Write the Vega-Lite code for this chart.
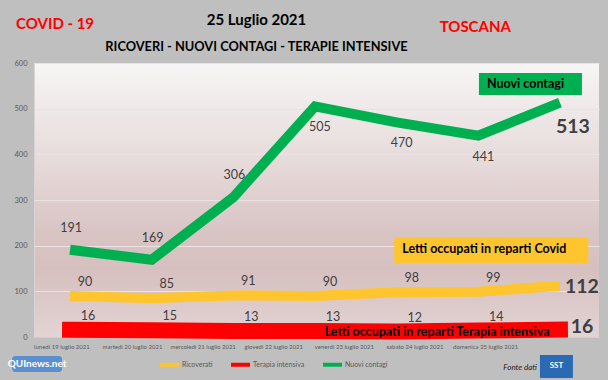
{
  "$schema": "https://vega.github.io/schema/vega-lite/v6.json",
  "width": 565,
  "height": 274,
  "autosize": "none",
  "padding": {"left": 34, "top": 63, "right": 9, "bottom": 43},
  "background": "#bfbfbf",
  "config": {
    "font": "Lato",
    "view": {
      "stroke": null,
      "fill": {
        "gradient": "linear", "x1": 0, "y1": 0, "x2": 0, "y2": 1,
        "stops": [
          {"offset": 0, "color": "#f7f5f5"},
          {"offset": 0.35, "color": "#e7dbdb"},
          {"offset": 0.62, "color": "#d9c4c4"},
          {"offset": 0.75, "color": "#d6bfbf"},
          {"offset": 1, "color": "#e3d4d4"}
        ]
      }
    }
  },
  "title": {
    "text": "25 Luglio 2021",
    "subtitle": "RICOVERI - NUOVI CONTAGI - TERAPIE INTENSIVE",
    "anchor": "middle",
    "frame": "group",
    "dx": -60,
    "font": "Lato",
    "fontSize": 15,
    "fontWeight": "bold",
    "color": "#000000",
    "subtitleFont": "Lato",
    "subtitleFontSize": 12.8,
    "subtitleFontWeight": "bold",
    "subtitleColor": "#000000",
    "subtitlePadding": 13,
    "offset": -37
  },
  "datasets": {
    "serie": [
      {"giorno": "lunedì 19 luglio 2021", "serie": "Nuovi contagi", "valore": 191},
      {"giorno": "martedì 20 luglio 2021", "serie": "Nuovi contagi", "valore": 169},
      {"giorno": "mercoledì 21 luglio 2021", "serie": "Nuovi contagi", "valore": 306},
      {"giorno": "giovedì 22 luglio 2021", "serie": "Nuovi contagi", "valore": 505},
      {"giorno": "venerdì 23 luglio 2021", "serie": "Nuovi contagi", "valore": 470},
      {"giorno": "sabato 24 luglio 2021", "serie": "Nuovi contagi", "valore": 441},
      {"giorno": "domenica 25 luglio 2021", "serie": "Nuovi contagi", "valore": 513},
      {"giorno": "lunedì 19 luglio 2021", "serie": "Ricoverati", "valore": 90},
      {"giorno": "martedì 20 luglio 2021", "serie": "Ricoverati", "valore": 85},
      {"giorno": "mercoledì 21 luglio 2021", "serie": "Ricoverati", "valore": 91},
      {"giorno": "giovedì 22 luglio 2021", "serie": "Ricoverati", "valore": 90},
      {"giorno": "venerdì 23 luglio 2021", "serie": "Ricoverati", "valore": 98},
      {"giorno": "sabato 24 luglio 2021", "serie": "Ricoverati", "valore": 99},
      {"giorno": "domenica 25 luglio 2021", "serie": "Ricoverati", "valore": 112},
      {"giorno": "lunedì 19 luglio 2021", "serie": "Terapia intensiva", "valore": 16},
      {"giorno": "martedì 20 luglio 2021", "serie": "Terapia intensiva", "valore": 15},
      {"giorno": "mercoledì 21 luglio 2021", "serie": "Terapia intensiva", "valore": 13},
      {"giorno": "giovedì 22 luglio 2021", "serie": "Terapia intensiva", "valore": 13},
      {"giorno": "venerdì 23 luglio 2021", "serie": "Terapia intensiva", "valore": 12},
      {"giorno": "sabato 24 luglio 2021", "serie": "Terapia intensiva", "valore": 14},
      {"giorno": "domenica 25 luglio 2021", "serie": "Terapia intensiva", "valore": 16}
    ]
  },
  "layer": [
    {
      "data": {"name": "serie"},
      "layer": [
        {
          "transform": [{"filter": {"field": "serie", "equal": "Ricoverati"}}],
          "mark": {"type": "line", "strokeWidth": 10, "strokeCap": "butt"},
          "encoding": {
            "x": {"field": "giorno", "type": "nominal", "scale": {"type": "point", "domain": ["lunedì 19 luglio 2021", "martedì 20 luglio 2021", "mercoledì 21 luglio 2021", "giovedì 22 luglio 2021", "venerdì 23 luglio 2021", "sabato 24 luglio 2021", "domenica 25 luglio 2021"], "padding": 0.46, "align": 0.48}, "axis": null},
            "y": {"field": "valore", "type": "quantitative", "scale": {"domain": [0, 600], "nice": false},
                  "axis": {"values": [0, 100, 200, 300, 400, 500, 600], "title": null, "grid": true, "gridColor": "#ebe3e3", "domainColor": "#d9d3d3", "ticks": false, "labelColor": "#595959", "labelFontSize": 7.5, "labelPadding": 7}},
            "color": {"field": "serie", "type": "nominal",
                      "scale": {"domain": ["Ricoverati", "Terapia intensiva", "Nuovi contagi"], "range": ["#fec52e", "#ff0000", "#00b050"]},
                      "legend": {"orient": "none", "legendX": 124, "legendY": 290, "direction": "horizontal", "title": null, "symbolType": "stroke", "symbolStrokeWidth": 4, "symbolSize": 361, "labelFontSize": 7, "labelColor": "#595959", "columnPadding": 10, "labelOffset": 1}}
          }
        },
        {
          "transform": [{"filter": {"field": "serie", "equal": "Terapia intensiva"}}],
          "mark": {"type": "line", "strokeWidth": 16, "strokeCap": "square"},
          "encoding": {
            "x": {"field": "giorno", "type": "nominal", "axis": null},
            "y": {"field": "valore", "type": "quantitative"},
            "color": {"field": "serie", "type": "nominal"}
          }
        },
        {
          "transform": [{"filter": {"field": "serie", "equal": "Nuovi contagi"}}],
          "mark": {"type": "line", "strokeWidth": 10, "strokeCap": "butt"},
          "encoding": {
            "x": {"field": "giorno", "type": "nominal", "axis": null},
            "y": {"field": "valore", "type": "quantitative"},
            "color": {"field": "serie", "type": "nominal"}
          }
        },
        {
          "transform": [{"filter": {"and": [{"field": "serie", "equal": "Ricoverati"}, {"not": {"field": "giorno", "equal": "domenica 25 luglio 2021"}}]}}],
          "mark": {"type": "text", "dx": 15, "dy": -14, "fontSize": 12.5, "color": "#404040"},
          "encoding": {
            "x": {"field": "giorno", "type": "nominal", "axis": null},
            "y": {"field": "valore", "type": "quantitative"},
            "text": {"field": "valore", "type": "quantitative"}
          }
        },
        {
          "transform": [{"filter": {"and": [{"field": "serie", "equal": "Ricoverati"}, {"field": "giorno", "equal": "domenica 25 luglio 2021"}]}}],
          "mark": {"type": "text", "dx": 22, "dy": 1, "fontSize": 19.5, "fontWeight": "bold", "color": "#404040"},
          "encoding": {
            "x": {"field": "giorno", "type": "nominal", "axis": null},
            "y": {"field": "valore", "type": "quantitative"},
            "text": {"field": "valore", "type": "quantitative"}
          }
        },
        {
          "transform": [{"filter": {"and": [{"field": "serie", "equal": "Terapia intensiva"}, {"not": {"field": "giorno", "equal": "domenica 25 luglio 2021"}}]}}],
          "mark": {"type": "text", "dx": 18, "dy": -14, "fontSize": 12.5, "color": "#404040"},
          "encoding": {
            "x": {"field": "giorno", "type": "nominal", "axis": null},
            "y": {"field": "valore", "type": "quantitative"},
            "text": {"field": "valore", "type": "quantitative"}
          }
        },
        {
          "transform": [{"filter": {"and": [{"field": "serie", "equal": "Terapia intensiva"}, {"field": "giorno", "equal": "domenica 25 luglio 2021"}]}}],
          "mark": {"type": "text", "dx": 22, "dy": -3, "fontSize": 19.5, "fontWeight": "bold", "color": "#404040"},
          "encoding": {
            "x": {"field": "giorno", "type": "nominal", "axis": null},
            "y": {"field": "valore", "type": "quantitative"},
            "text": {"field": "valore", "type": "quantitative"}
          }
        },
        {
          "transform": [{"filter": {"and": [{"field": "serie", "equal": "Nuovi contagi"}, {"field": "giorno", "oneOf": ["lunedì 19 luglio 2021", "martedì 20 luglio 2021", "mercoledì 21 luglio 2021"]}]}}],
          "mark": {"type": "text", "dx": 1, "dy": -22, "fontSize": 12.5, "color": "#404040"},
          "encoding": {
            "x": {"field": "giorno", "type": "nominal", "axis": null},
            "y": {"field": "valore", "type": "quantitative"},
            "text": {"field": "valore", "type": "quantitative"}
          }
        },
        {
          "transform": [{"filter": {"and": [{"field": "serie", "equal": "Nuovi contagi"}, {"field": "giorno", "oneOf": ["giovedì 22 luglio 2021", "venerdì 23 luglio 2021", "sabato 24 luglio 2021"]}]}}],
          "mark": {"type": "text", "dx": 5, "dy": 21, "fontSize": 12.5, "color": "#404040"},
          "encoding": {
            "x": {"field": "giorno", "type": "nominal", "axis": null},
            "y": {"field": "valore", "type": "quantitative"},
            "text": {"field": "valore", "type": "quantitative"}
          }
        },
        {
          "transform": [{"filter": {"and": [{"field": "serie", "equal": "Nuovi contagi"}, {"field": "giorno", "equal": "domenica 25 luglio 2021"}]}}],
          "mark": {"type": "text", "dx": 13, "dy": 24, "fontSize": 19.5, "fontWeight": "bold", "color": "#404040"},
          "encoding": {
            "x": {"field": "giorno", "type": "nominal", "axis": null},
            "y": {"field": "valore", "type": "quantitative"},
            "text": {"field": "valore", "type": "quantitative"}
          }
        },
        {
          "data": {"values": [{"etichetta": "Nuovi contagi"}]},
          "layer": [
            {
              "mark": {"type": "bar", "color": "#00b050", "width": 103, "xOffset": -29.5},
              "encoding": {
                "x": {"datum": "domenica 25 luglio 2021", "type": "nominal", "axis": null},
                "y": {"datum": 530, "type": "quantitative"},
                "y2": {"datum": 578}
              }
            },
            {
              "mark": {"type": "text", "align": "left", "dx": -73, "fontSize": 12.5, "fontWeight": "bold", "color": "#000000"},
              "encoding": {
                "x": {"datum": "domenica 25 luglio 2021", "type": "nominal", "axis": null},
                "y": {"datum": 554, "type": "quantitative"},
                "text": {"field": "etichetta"}
              }
            }
          ]
        },
        {
          "data": {"values": [{"etichetta": "Letti occupati in reparti Covid"}]},
          "layer": [
            {
              "mark": {"type": "bar", "color": "#fec52e", "width": 194, "xOffset": 13},
              "encoding": {
                "x": {"datum": "sabato 24 luglio 2021", "type": "nominal", "axis": null},
                "y": {"datum": 161.5, "type": "quantitative"},
                "y2": {"datum": 218}
              }
            },
            {
              "mark": {"type": "text", "align": "left", "dx": -76, "fontSize": 12.5, "fontWeight": "bold", "color": "#000000"},
              "encoding": {
                "x": {"datum": "sabato 24 luglio 2021", "type": "nominal", "axis": null},
                "y": {"datum": 193, "type": "quantitative"},
                "text": {"field": "etichetta"}
              }
            }
          ]
        },
        {
          "data": {"values": [{"etichetta": "Letti occupati in reparti Terapia intensiva"}]},
          "mark": {"type": "text", "align": "left", "dx": -72, "fontSize": 12.5, "fontWeight": "bold", "color": "#000000"},
          "encoding": {
            "x": {"datum": "venerdì 23 luglio 2021", "type": "nominal", "axis": null},
            "y": {"datum": 12, "type": "quantitative"},
            "text": {"field": "etichetta"}
          }
        },
        {
          "data": {"values": [{"etichetta": "COVID - 19"}]},
          "mark": {"type": "text", "dx": -15, "fontSize": 15, "fontWeight": "bold", "color": "#ff0000"},
          "encoding": {
            "x": {"datum": "lunedì 19 luglio 2021", "type": "nominal", "axis": null},
            "y": {"datum": 685, "type": "quantitative"},
            "text": {"field": "etichetta"}
          }
        },
        {
          "data": {"values": [{"etichetta": "TOSCANA"}]},
          "mark": {"type": "text", "dx": -3, "fontSize": 15, "fontWeight": "bold", "color": "#ff0000"},
          "encoding": {
            "x": {"datum": "sabato 24 luglio 2021", "type": "nominal", "axis": null},
            "y": {"datum": 679, "type": "quantitative"},
            "text": {"field": "etichetta"}
          }
        },
        {
          "data": {"values": [{"etichetta": "QUInews.net"}]},
          "layer": [
            {
              "mark": {"type": "bar", "color": "#5b8fd0", "width": 50, "xOffset": -33, "cornerRadius": 3},
              "encoding": {
                "x": {"datum": "lunedì 19 luglio 2021", "type": "nominal", "axis": null},
                "y": {"datum": -41.6, "type": "quantitative"},
                "y2": {"datum": -76.6}
              }
            },
            {
              "mark": {"type": "text", "dx": -33, "fontSize": 10, "fontWeight": "bold", "color": "#ffffff"},
              "encoding": {
                "x": {"datum": "lunedì 19 luglio 2021", "type": "nominal", "axis": null},
                "y": {"datum": -59, "type": "quantitative"},
                "text": {"field": "etichetta"}
              }
            }
          ]
        },
        {
          "data": {"values": [{"etichetta": "Fonte dati", "logo": "SST"}]},
          "layer": [
            {
              "mark": {"type": "text", "align": "right", "dx": -23, "fontSize": 8, "fontStyle": "italic", "color": "#222222"},
              "encoding": {
                "x": {"datum": "domenica 25 luglio 2021", "type": "nominal", "axis": null},
                "y": {"datum": -67.9, "type": "quantitative"},
                "text": {"field": "etichetta"}
              }
            },
            {
              "mark": {"type": "bar", "color": "#2a6ab5", "width": 33, "xOffset": -3.5},
              "encoding": {
                "x": {"datum": "domenica 25 luglio 2021", "type": "nominal", "axis": null},
                "y": {"datum": -39.4, "type": "quantitative"},
                "y2": {"datum": -89.8}
              }
            },
            {
              "mark": {"type": "text", "dx": -3.5, "fontSize": 8, "fontWeight": "bold", "color": "#ffffff"},
              "encoding": {
                "x": {"datum": "domenica 25 luglio 2021", "type": "nominal", "axis": null},
                "y": {"datum": -64, "type": "quantitative"},
                "text": {"field": "logo"}
              }
            }
          ]
        }
      ]
    },
    {
      "data": {"name": "serie"},
      "mark": {"type": "point", "opacity": 0},
      "encoding": {
        "x": {"field": "giorno", "type": "nominal",
              "scale": {"type": "point", "domain": ["lunedì 19 luglio 2021", "martedì 20 luglio 2021", "mercoledì 21 luglio 2021", "giovedì 22 luglio 2021", "venerdì 23 luglio 2021", "sabato 24 luglio 2021", "domenica 25 luglio 2021"], "padding": 1.08, "align": 0.194},
              "axis": {"orient": "bottom", "title": null, "labelAngle": 0, "labelFontSize": 6, "labelColor": "#595959", "ticks": false, "domainColor": "#d6cccc", "labelPadding": 6}}
      }
    }
  ],
  "resolve": {"scale": {"x": "independent"}}
}
